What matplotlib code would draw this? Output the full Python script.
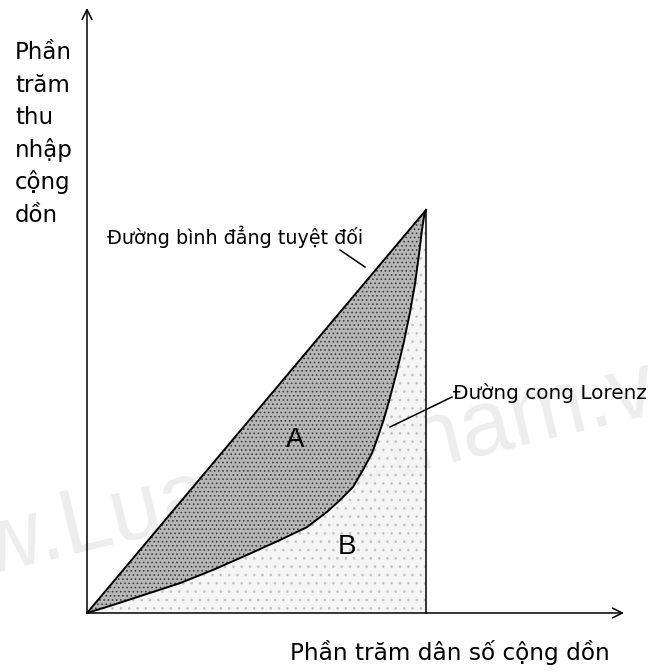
import numpy as np
import matplotlib
matplotlib.use("Agg")
import matplotlib.pyplot as plt

# ---- data (percent units) ----
pop_share = [0, 7.7, 27.4, 37.2, 47.2, 56.9, 64.9, 70.8, 74.6, 78.5, 81.4,
             84.1, 85.8, 87.5, 89.2, 91.3, 93.4, 95.3, 96.8, 98.1, 98.8,
             99.6, 100]
income_share = [0, 2.0, 7.4, 10.7, 14.4, 18.1, 21.3, 25.1, 28.0, 31.3, 35.5,
                39.7, 43.7, 47.9, 52.9, 59.6, 67.0, 74.7, 81.9, 90.1, 95.0,
                99.3, 100]
equality = pop_share  # line of perfect equality y = x

y_label_lines = ["Phần", "trăm", "thu", "nhập", "cộng", "dồn"]
x_label = "Phần trăm dân số cộng dồn"
equality_label = "Đường bình đẳng tuyệt đối"
lorenz_label = "Đường cong Lorenz"
area_labels = ["A", "B"]
watermark = "www.LuanVietnam.vn"

plt.rcParams["hatch.linewidth"] = 0.7

W, H = 650, 672
fig = plt.figure(figsize=(W / 100, H / 100), dpi=100)
ax = fig.add_axes([0, 0, 1, 1])

# pixel -> data helper (origin at pixel (87,613), 100% at (426,210))
X0, Y0, SX, SY = 87, 613, 3.39, 4.03
def P(px, py):
    return ((px - X0) / SX, (Y0 - py) / SY)

ax.set_xlim(P(0, 0)[0], P(W, 0)[0])
ax.set_ylim(P(0, H)[1], P(0, 0)[1])
ax.axis("off")

xs = np.array(pop_share)
ys = np.array(income_share)

# watermark
wx, wy = P(-145, 607)
ax.text(wx, wy, watermark, family="Liberation Sans", fontsize=66,
        color="#ededed", rotation=13.6, rotation_mode="anchor",
        ha="left", va="baseline", zorder=0.5, clip_on=False)

# area A (between equality line and Lorenz curve)
ax.fill_between(xs, ys, equality, facecolor="#b4b4b4", edgecolor="#3c3c3c",
                hatch="....", linewidth=0, alpha=0.96, zorder=1)
# area B (under Lorenz curve)
ax.fill_between(xs, 0, ys, facecolor="#f4f4f4", edgecolor="#bcbcbc",
                hatch="..", linewidth=0, alpha=0.85, zorder=1)

# lines
ax.plot([0, 100], [0, 100], color="black", lw=1.4, zorder=3)
ax.plot(xs, ys, color="black", lw=1.4, zorder=3)
ax.plot([100, 100], [0, 100], color="black", lw=1.1, zorder=3)

# axes with arrows
arrow = dict(arrowstyle="->,head_length=0.7,head_width=0.35", color="black",
             lw=1.1, shrinkA=0, shrinkB=0)
ax.annotate("", xy=P(87, 8), xytext=(0, 0), arrowprops=arrow, zorder=4)
ax.annotate("", xy=P(624, 613), xytext=(0, 0), arrowprops=arrow, zorder=4)

# y label (stacked lines)
for i, word in enumerate(y_label_lines):
    tx, ty = P(15, 59 + i * 32.6)
    ax.text(tx, ty, word, family="DejaVu Sans", fontsize=16.5,
            ha="left", va="baseline", zorder=5)

# x label
tx, ty = P(290, 660)
ax.text(tx, ty, x_label, family="DejaVu Sans", fontsize=16.7,
        ha="left", va="baseline", zorder=5)

# equality label and leader
tx, ty = P(107, 244)
ax.text(tx, ty, equality_label, family="DejaVu Sans", fontsize=13.8,
        ha="left", va="baseline", zorder=5)
ax.plot(*zip(P(340, 250), P(365, 267)), color="black", lw=1.1, zorder=5)

# Lorenz label and leader
tx, ty = P(453, 399)
ax.text(tx, ty, lorenz_label, family="DejaVu Sans", fontsize=14.4,
        ha="left", va="baseline", zorder=5)
ax.plot(*zip(P(390, 427), P(452, 397)), color="black", lw=1.1, zorder=5)

# area letters
for lab, (px, py) in zip(area_labels, [(295, 440), (347, 547)]):
    tx, ty = P(px, py)
    ax.text(tx, ty, lab, family="Liberation Sans", fontsize=20,
            ha="center", va="center", zorder=5)

fig.savefig("out.png", dpi=100, facecolor="white")
